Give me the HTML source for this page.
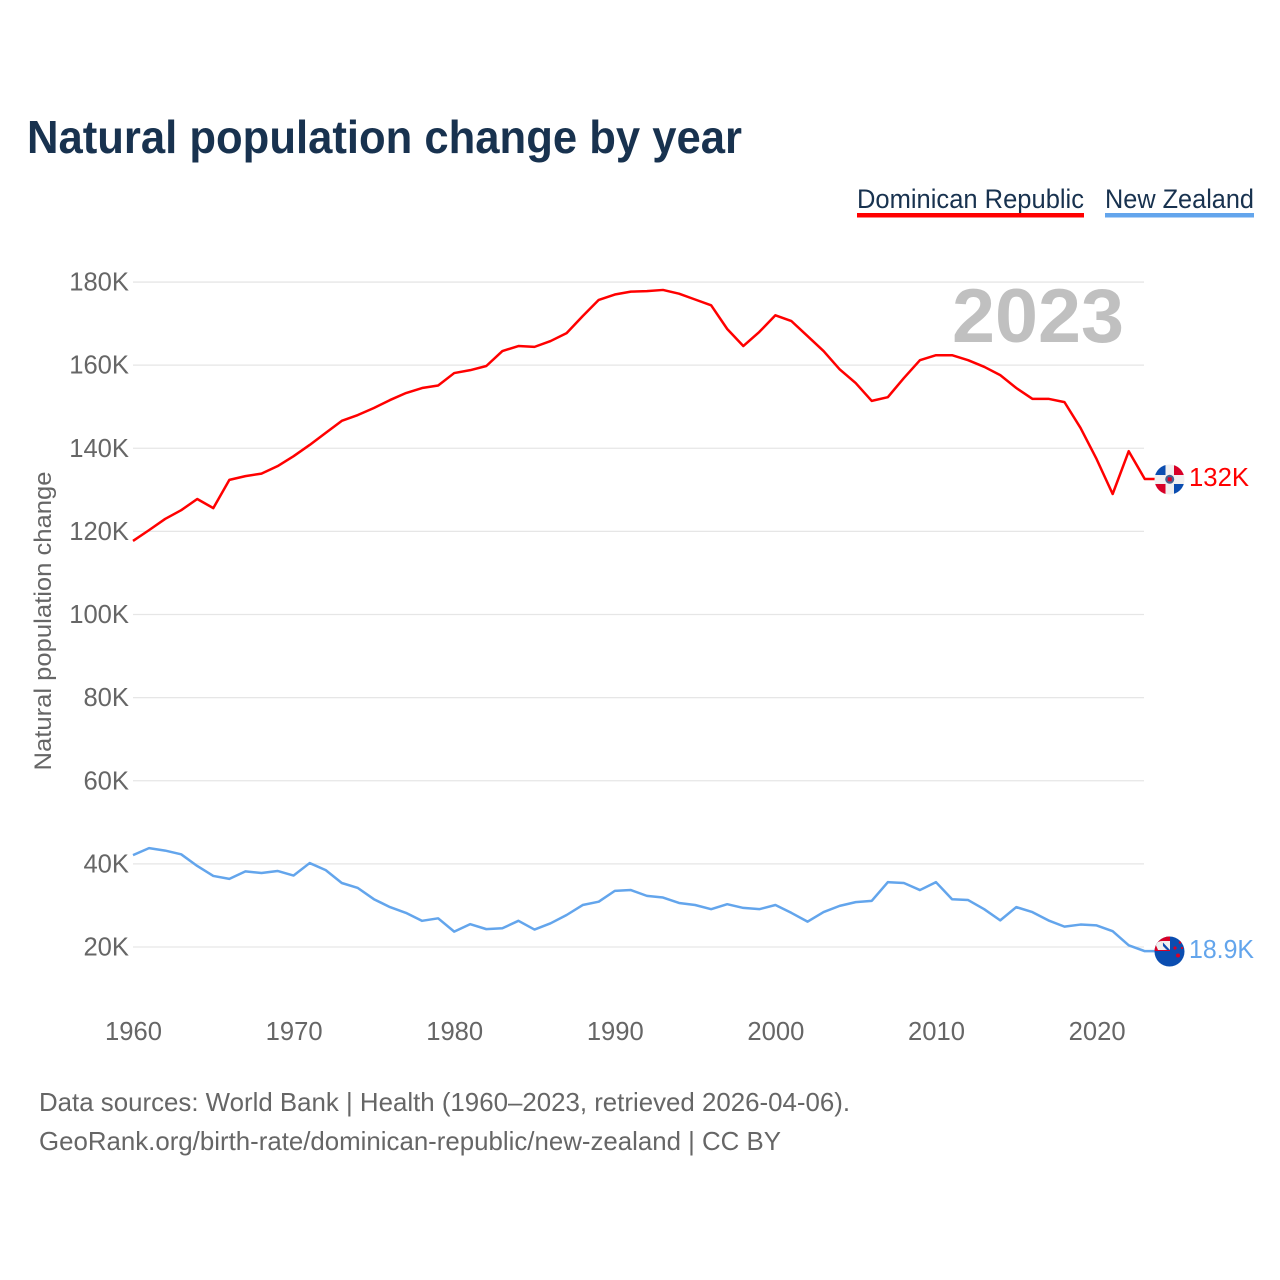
<!DOCTYPE html>
<html lang="en">
<head>
<meta charset="utf-8">
<title>Natural population change by year</title>
<style>
html,body{margin:0;padding:0;background:#fff;width:1280px;height:1280px;overflow:hidden}
svg{display:block}
text{font-family:"Liberation Sans",sans-serif}
</style>
</head>
<body>
<svg id="chart" xmlns="http://www.w3.org/2000/svg" width="1280" height="1280" viewBox="0 0 1280 1280">
  <defs>
    <clipPath id="flag-clip-do"><circle cx="1169.5" cy="479.5" r="15"/></clipPath>
    <clipPath id="flag-clip-nz"><circle cx="1169.5" cy="951.5" r="15"/></clipPath>
  </defs>
  <rect width="1280" height="1280" fill="#fff"/>
  <text x="27" y="153" font-size="46" font-weight="700" fill="#18324f" textLength="715" lengthAdjust="spacingAndGlyphs">Natural population change by year</text>

  <g>
    <text x="857" y="208" font-size="26.5" fill="#18324f" textLength="227" lengthAdjust="spacingAndGlyphs">Dominican Republic</text>
    <rect x="857" y="213" width="227" height="4.5" fill="#ff0000"/>
  </g>
  <g>
    <text x="1105" y="208" font-size="26.5" fill="#18324f" textLength="149" lengthAdjust="spacingAndGlyphs">New Zealand</text>
    <rect x="1105" y="213" width="149" height="4.5" fill="#63a5ec"/>
  </g>

  <text transform="translate(51,621) rotate(-90)" text-anchor="middle" font-size="24.5" fill="#666" textLength="299" lengthAdjust="spacingAndGlyphs">Natural population change</text>

  <g id="grid"></g>
  <g id="y-ticks"></g>
  <g id="x-ticks"></g>

  <text x="952" y="342" font-size="76" font-weight="700" fill="#c0c0c0" textLength="172" lengthAdjust="spacingAndGlyphs">2023</text>

  <g id="series"></g>

  <g clip-path="url(#flag-clip-do)">
    <rect x="1154" y="464" width="31" height="31" fill="#f0f0f0"/>
    <rect x="1154" y="464" width="11.5" height="11" fill="#0b4db0"/>
    <rect x="1174" y="464" width="11" height="11" fill="#d80027"/>
    <rect x="1154" y="484" width="11.5" height="11" fill="#d80027"/>
    <rect x="1174" y="484" width="11" height="11" fill="#0b4db0"/>
    <circle cx="1169.7" cy="479.3" r="4.5" fill="#46618f"/>
    <rect x="1167.7" y="477.3" width="4" height="4" fill="#d80027"/>
  </g>
  <g clip-path="url(#flag-clip-nz)">
    <rect x="1154" y="936" width="31" height="32" fill="#0b4db0"/>
    <rect x="1154" y="936" width="16" height="15" fill="#d80027"/>
    <path d="M1161 941 L1170 941 L1170 950 L1166 950 Z" fill="#f0f0f0"/>
    <path d="M1155 943 L1161 941 L1166 950 L1158 950 Z" fill="#f0f0f0"/>
    <path d="M1163 942.5 L1170 950 L1167 950 L1163 946 Z" fill="#0b4db0"/>
    <circle cx="1180" cy="942.5" r="1.3" fill="#d80027"/>
    <circle cx="1175" cy="948" r="1.6" fill="#d80027"/>
    <circle cx="1182" cy="948" r="1.1" fill="#d80027"/>
    <circle cx="1178" cy="955.5" r="2" fill="#d80027"/>
  </g>

  <text x="1189" y="486" font-size="25.6" fill="#ff0000" textLength="60" lengthAdjust="spacingAndGlyphs">132K</text>
  <text x="1189" y="958" font-size="25.6" fill="#63a5ec" textLength="65" lengthAdjust="spacingAndGlyphs">18.9K</text>

  <text x="39" y="1111" font-size="26" fill="#666" textLength="811" lengthAdjust="spacingAndGlyphs">Data sources: World Bank | Health (1960–2023, retrieved 2026-04-06).</text>
  <text x="39" y="1150" font-size="26" fill="#666" textLength="742" lengthAdjust="spacingAndGlyphs">GeoRank.org/birth-rate/dominican-republic/new-zealand | CC BY</text>
</svg>
<script>
const startYear = 1960;
const yTickValues = [20, 40, 60, 80, 100, 120, 140, 160, 180];
const xTickYears = [1960, 1970, 1980, 1990, 2000, 2010, 2020];
const dominicanRepublic = [
  117.7, 120.3, 123, 125.1, 127.8, 125.6, 132.4, 133.3, 133.9, 135.7,
  138.1, 140.8, 143.7, 146.6, 148, 149.7, 151.6, 153.3, 154.5, 155.1,
  158.1, 158.8, 159.8, 163.4, 164.6, 164.4, 165.8, 167.7, 171.8, 175.7,
  177, 177.7, 177.8, 178.1, 177.2, 175.8, 174.4, 168.7, 164.6, 168,
  172, 170.6, 167, 163.4, 159, 155.7, 151.4, 152.3, 156.9, 161.2,
  162.4, 162.4, 161.2, 159.6, 157.6, 154.5, 151.9, 151.9, 151.1, 144.9,
  137.4, 129, 139.3, 132.6
];
const newZealand = [
  42.1, 43.8, 43.2, 42.3, 39.5, 37.1, 36.4, 38.2, 37.8, 38.3,
  37.2, 40.2, 38.5, 35.4, 34.2, 31.5, 29.6, 28.2, 26.3, 26.9,
  23.7, 25.5, 24.3, 24.5, 26.3, 24.2, 25.7, 27.7, 30.1, 30.9,
  33.5, 33.7, 32.3, 31.9, 30.6, 30.1, 29.1, 30.3, 29.4, 29.1,
  30.1, 28.2, 26.1, 28.4, 29.9, 30.8, 31.1, 35.6, 35.4, 33.7,
  35.6, 31.5, 31.3, 29.1, 26.4, 29.6, 28.4, 26.4, 24.9, 25.4,
  25.2, 23.8, 20.4, 19
];

const SVG_NS = 'http://www.w3.org/2000/svg';
const xScale = function (year) { return 133 + (year - 1960) * 16.06; };
const yScale = function (v) { return 947 - (v - 20) * 4.156; };

const grid = document.getElementById('grid');
const yTicks = document.getElementById('y-ticks');
const xTicks = document.getElementById('x-ticks');
const seriesGroup = document.getElementById('series');

yTickValues.forEach(function (v) {
  const line = document.createElementNS(SVG_NS, 'line');
  
  
  line.setAttribute('x1', 133);
  line.setAttribute('x2', 1144);
  line.setAttribute('y1', yScale(v));
  line.setAttribute('y2', yScale(v));
  line.setAttribute('stroke', '#e6e6e6');
  line.setAttribute('stroke-width', '1.3');
  grid.appendChild(line);

  const label = document.createElementNS(SVG_NS, 'text');
  
  
  label.setAttribute('x', 129);
  label.setAttribute('y', yScale(v) + 8.5);
  label.setAttribute('text-anchor', 'end');
  label.setAttribute('font-size', '25.6');
  label.setAttribute('fill', '#666');
  label.textContent = v + 'K';
  yTicks.appendChild(label);
});

xTickYears.forEach(function (year) {
  const label = document.createElementNS(SVG_NS, 'text');
  
  
  label.setAttribute('x', xScale(year) + 0.5);
  label.setAttribute('y', 1040);
  label.setAttribute('text-anchor', 'middle');
  label.setAttribute('font-size', '25.6');
  label.setAttribute('fill', '#666');
  label.textContent = year;
  xTicks.appendChild(label);
});

function drawSeries(values, color) {
  const pts = values.map(function (v, i) {
    return xScale(startYear + i).toFixed(2) + ',' + yScale(v).toFixed(2);
  });
  const lastY = yScale(values[values.length - 1]).toFixed(2);
  pts.push('1155,' + lastY);
  const line = document.createElementNS(SVG_NS, 'polyline');
  line.setAttribute('points', pts.join(' '));
  line.setAttribute('fill', 'none');
  line.setAttribute('stroke', color);
  line.setAttribute('stroke-width', '2.5');
  line.setAttribute('stroke-linejoin', 'round');
  return line;
}

const drLine = drawSeries(dominicanRepublic, '#ff0000');


seriesGroup.appendChild(drLine);

const nzLine = drawSeries(newZealand, '#63a5ec');


seriesGroup.appendChild(nzLine);
</script>
</body>
</html>
